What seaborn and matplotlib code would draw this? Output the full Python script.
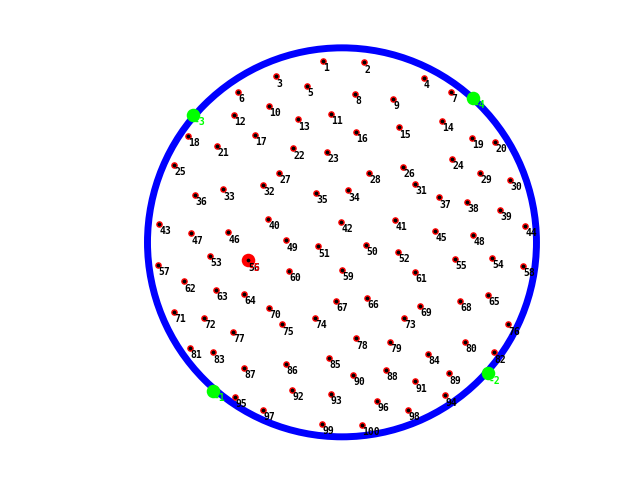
import numpy as np
import pandas as pd
import matplotlib
matplotlib.use("Agg")
from matplotlib import pyplot as plt
import seaborn as sns

# numbered points inside the unit circle
xs = [-0.096, 0.115, -0.338, 0.420, -0.178, -0.533, 0.562, 0.068, 0.264, -0.374,
      -0.054, -0.554, -0.225, 0.516, 0.295, 0.074, -0.446, -0.793, 0.670, 0.788,
      -0.641, -0.250, -0.076, 0.567, -0.862, 0.315, -0.322, 0.140, 0.711, 0.865,
      0.377, -0.405, -0.610, 0.032, -0.132, -0.754, 0.500, 0.644, 0.814, -0.379,
      0.274, -0.004, -0.939, 0.942, 0.480, -0.585, -0.775, 0.675, -0.286, 0.125,
      -0.122, 0.289, -0.677, 0.773, 0.583, -0.482, -0.944, 0.932, 0.002, -0.271,
      0.377, -0.811, -0.646, -0.502, 0.752, 0.130, -0.029, 0.608, 0.403, -0.374,
      -0.862, -0.708, 0.320, -0.137, -0.307, 0.855, -0.559, 0.074, 0.248, 0.634,
      -0.780, 0.783, -0.662, 0.444, -0.067, -0.286, -0.502, 0.228, 0.552, 0.058,
      0.377, -0.256, -0.059, 0.531, -0.549, 0.181, -0.405, 0.341, -0.101, 0.104]
ys = [0.931, 0.925, 0.853, 0.843, 0.802, 0.771, 0.771, 0.761, 0.735, 0.699,
      0.660, 0.653, 0.632, 0.622, 0.591, 0.566, 0.550, 0.545, 0.535, 0.514,
      0.494, 0.483, 0.463, 0.427, 0.396, 0.386, 0.355, 0.355, 0.355, 0.319,
      0.298, 0.293, 0.272, 0.267, 0.252, 0.242, 0.231, 0.206, 0.165, 0.118,
      0.113, 0.103, 0.093, 0.082, 0.057, 0.051, 0.046, 0.036, 0.010, -0.015,
      -0.021, -0.050, -0.072, -0.082, -0.087, -0.093, -0.118, -0.123, -0.144, -0.149,
      -0.154, -0.201, -0.247, -0.267, -0.272, -0.288, -0.303, -0.303, -0.329, -0.339,
      -0.360, -0.391, -0.391, -0.391, -0.422, -0.422, -0.463, -0.494, -0.514, -0.514,
      -0.545, -0.566, -0.566, -0.576, -0.596, -0.627, -0.648, -0.658, -0.674, -0.684,
      -0.715, -0.761, -0.781, -0.787, -0.797, -0.817, -0.864, -0.864, -0.936, -0.941]
labels = [str(i) for i in range(1, 101)]

# special points on the boundary (green) and the highlighted one (red)
green_x = [-0.662, 0.752, -0.765, 0.675]
green_y = [-0.766, -0.674, 0.656, 0.743]
green_labels = ["-1", "-2", "-3", "-4"]
red_x = [-0.482]
red_y = [-0.093]
red_labels = ["-5"]

df = pd.DataFrame({"x": xs, "y": ys, "label": labels})
dg = pd.DataFrame({"x": green_x, "y": green_y, "label": green_labels})
dr = pd.DataFrame({"x": red_x, "y": red_y, "label": red_labels})

fig = plt.figure(figsize=(6.4, 4.8), dpi=100)
ax = fig.add_axes([0, 0, 1, 1])

ax.add_patch(plt.Circle((0, 0), 1.0, fill=False, color="blue", lw=5, zorder=1))

sns.scatterplot(data=dg, x="x", y="y", color="lime", s=95, linewidth=0, ax=ax, zorder=3)
sns.scatterplot(data=dr, x="x", y="y", color="red", s=95, linewidth=0, ax=ax, zorder=3)
sns.scatterplot(data=df, x="x", y="y", color="black", edgecolor="red", s=14,
                linewidth=1, ax=ax, zorder=4)

font = dict(family="DejaVu Sans Mono", weight="bold", size=7)
for _, r in df.iterrows():
    ax.text(r.x, r.y - 0.052, r.label, color="black", zorder=5, **font)
for _, r in dg.iterrows():
    ax.text(r.x, r.y - 0.052, r.label, color="lime", zorder=5, **font)
for _, r in dr.iterrows():
    ax.text(r.x, r.y - 0.052, r.label, color="red", zorder=6, **font)

ax.set_xlim(-1.758, 1.532)
ax.set_ylim(-1.222, 1.246)
ax.set_aspect("equal")
ax.axis("off")

fig.savefig("out.png", dpi=100)
